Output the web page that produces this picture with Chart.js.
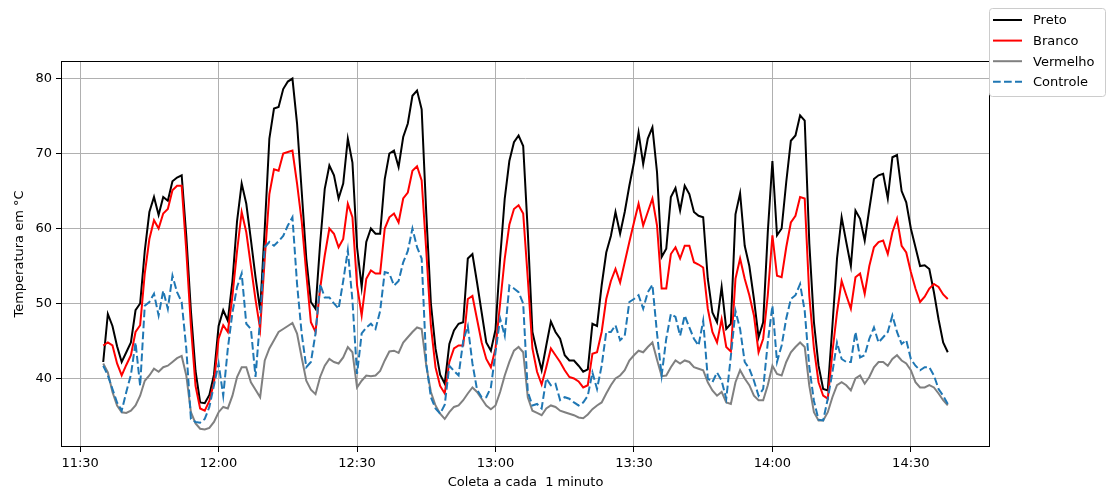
<!DOCTYPE html>
<html lang="pt-BR">
<head>
<meta charset="utf-8">
<title>Temperatura em °C</title>
<script src="https://cdn.jsdelivr.net/npm/chart.js@4.4.1/dist/chart.umd.min.js"></script>
<style>
  html, body { margin: 0; padding: 0; background: #fff; }
  canvas { display: block; }
</style>
</head>
<body>
<canvas id="grafico" width="1108" height="496"></canvas>
<script>
// leituras a cada 1 minuto, contando os minutos a partir das 11:30
const inicio = 11 * 60 + 30;
const primeiroMinuto = 5;

const preto = [
  42.2, 48.6, 47, 44.3, 42.2, 43.5, 44.8, 49.1, 50, 57,
  62.2, 64.2, 61.8, 64.2, 63.7, 66.3, 66.8, 67.1, 59, 49,
  41, 36.8, 36.7, 37.8, 40.5, 47, 49.1, 47.7, 53, 61,
  66, 63.3, 58.5, 53.5, 49.1, 60, 72, 76, 76.2, 78.6,
  79.6, 80, 74, 65, 56, 50.2, 49.3, 58, 65.3, 68.4,
  67.1, 64, 66, 72, 68.8, 57.5, 52.2, 58.2, 60, 59.3,
  59.3, 66.6, 70, 70.4, 68.2, 72.2, 74, 77.7, 78.4, 75.9,
  62, 50, 44, 40.5, 39.3, 44.6, 46.4, 47.3, 47.5, 56,
  56.6, 52.8, 48.8, 44.8, 43.7, 46.5, 56, 64, 69, 71.5,
  72.4, 71, 59.5, 46.2, 43.5, 41.1, 44.4, 47.6, 46.2, 45.3,
  43.1, 42.4, 42.4, 41.7, 40.9, 41.2, 47.3, 47, 52.4, 56.8,
  59, 62.2, 59.3, 62.2, 65.7, 68.8, 72.8, 68.6, 72, 73.5,
  67.5, 56.2, 57.3, 64.2, 65.4, 62.4, 65.7, 64.6, 62.2, 61.7,
  61.5, 53.3, 48.8, 47.5, 52.2, 46.6, 47.3, 61.9, 64.7, 57.7,
  55, 50.6, 45.5, 47.5, 59.5, 69, 59.1, 60, 66.2, 71.7,
  72.4, 75.1, 74.4, 58, 47.5, 41.7, 38.6, 38.4, 47, 56,
  61.5, 58.2, 55, 62.4, 61.3, 58.4, 62.6, 66.6, 67.1, 67.3,
  64, 69.5, 69.8, 65, 63.5, 60, 57.5, 55, 55.1, 54.6,
  51.5, 47.9, 44.8, 43.5
];

const branco = [
  44.4, 44.8, 44.4, 42, 40.4, 41.8, 43.1, 46.2, 47.1, 54,
  58.6, 61.1, 60, 62, 62.6, 65.1, 65.7, 65.7, 57, 47,
  39, 36, 35.7, 37, 39.5, 45.3, 47.1, 46.2, 51, 57,
  62.2, 59.5, 55, 50.5, 46.6, 56, 64.6, 67.9, 67.7, 70,
  70.2, 70.4, 66, 61, 54, 47.5, 46.2, 52, 56.4, 60,
  59.3, 57.5, 58.6, 63.3, 61.5, 52.4, 48.4, 53.3, 54.4, 54,
  54, 60, 61.5, 62, 60.8, 64, 64.8, 67.7, 68.3, 66.4,
  57, 47, 41.5, 39, 38, 42.2, 44, 44.4, 44.4, 50.6,
  51, 47.9, 44.8, 42.6, 41.5, 44, 50, 56, 60.5, 62.6,
  63.1, 62, 53.3, 44, 40.9, 39.2, 41.5, 44, 43.1, 42.2,
  41.1, 40.2, 40, 39.6, 38.8, 39.1, 43.3, 43.5, 46.2, 50.6,
  53, 54.6, 52.8, 55.5, 58.2, 60.8, 63.3, 60.4, 62.2, 64,
  60.4, 52, 52, 56.6, 57.5, 56, 57.7, 57.7, 55.5, 55.2,
  54.8, 49.3, 46.2, 44.8, 47.9, 44.2, 43.6, 53.3, 56, 53.3,
  51.1, 48.4, 43.5, 45.3, 51.1, 59.1, 53.7, 53.5, 57.5, 60.8,
  61.7, 64.2, 64, 51, 44, 39.5, 37.7, 37.3, 43.5, 48.8,
  53, 51.1, 49.3, 53.5, 54, 51.3, 55, 57.5, 58.2, 58.4,
  56.6, 59.5, 61.3, 57.7, 56.8, 54.2, 52, 50.2, 50.9, 52,
  52.6, 52.2, 51.2, 50.6
];

const vermelho = [
  42, 40.8, 38.2, 36.4, 35.5, 35.4, 35.7, 36.4, 37.7, 39.7,
  40.4, 41.3, 40.9, 41.5, 41.7, 42.2, 42.7, 43, 40.4, 35.5,
  34, 33.3, 33.2, 33.4, 34.2, 35.5, 36.2, 36, 37.7, 40.2,
  41.5, 41.5, 39.5, 38.5, 37.5, 42.4, 44, 45.1, 46.2, 46.6,
  47, 47.4, 46, 42.8, 39.7, 38.5, 37.9, 40.2, 41.7, 42.6,
  42.2, 42, 42.8, 44.2, 43.5, 38.8, 39.7, 40.4, 40.3, 40.4,
  41, 42.4, 43.6, 43.7, 43.4, 44.8, 45.5, 46.2, 46.8, 46.6,
  41.7, 38.2, 36.4, 35.3, 34.6, 35.5, 36.2, 36.4, 37.1, 38,
  38.8, 38.2, 37.3, 36.4, 35.9, 36.4, 38.2, 40.4, 42.2, 43.7,
  44.2, 43.5, 37.5, 35.7, 35.4, 35.1, 36, 36.4, 36.2, 35.7,
  35.5, 35.3, 35.1, 34.8, 34.7, 35.2, 35.9, 36.4, 36.8, 38,
  39.1, 40, 40.4, 41.1, 42.4, 43.1, 43.7, 43.5, 44.2, 44.8,
  42.5, 40.3, 40.4, 41.5, 42.4, 42, 42.4, 42.2, 41.5, 41.3,
  41.1, 39.5, 38.4, 37.7, 38.2, 36.8, 36.6, 39.5, 41.1, 40,
  39.1, 37.7, 37.1, 37.1, 39.1, 41.7, 40.6, 40.4, 42.2, 43.5,
  44.2, 44.8, 44.2, 39, 35.5, 34.4, 34.4, 35.5, 37.5, 39.1,
  39.5, 39.1, 38.4, 40, 40.4, 39.3, 40.2, 41.5, 42.2, 42.2,
  41.7, 42.6, 43.1, 42.4, 42, 41.1, 39.5, 38.8, 38.8, 39.1,
  38.8, 38, 37.1, 36.4
];

const controle = [
  41.7, 40.4, 38.6, 36.8, 35.7, 38.2, 40.5, 44.8, 39, 49.7,
  50.2, 51.3, 48.4, 51.7, 49.3, 53.7, 51.5, 50.2, 44, 34.6,
  34.2, 34.1, 34.6, 36.2, 39.1, 42, 37.7, 44, 48.8, 52.2,
  54, 47.3, 46.6, 40.2, 48, 57.5, 58.2, 57.7, 58.3, 59,
  60.4, 61.5, 52.6, 46, 41.5, 42.2, 46, 52.6, 50.8, 50.8,
  50, 49.3, 53, 57.1, 50.4, 40.6, 46, 46.8, 47.3, 46.6,
  49, 54.2, 54, 52.4, 53, 55.5, 57, 60, 57.5, 56,
  42, 37.5, 36, 35.3, 36.5, 41.7, 41, 40.4, 45, 47,
  42, 38.5, 37.5, 37.5, 38.8, 43.5, 48, 45.7, 52.4, 52,
  51.5, 50, 38.2, 36.4, 36.6, 36, 40, 39.1, 39.3, 37.1,
  37.5, 37.3, 36.8, 36.4, 36.8, 37.7, 40.8, 38.6, 41.7, 46.2,
  46.2, 47.1, 45.1, 45.7, 50.2, 50.6, 51.1, 49.3, 51.5, 52.5,
  46, 40.4, 45.3, 48.6, 48.2, 45.7, 48.4, 46.8, 45.3, 44.4,
  47.7, 40, 39.5, 40.8, 39.7, 37.3, 43, 49, 46.6, 42.2,
  41.3, 39.7, 37.7, 38.6, 44.8, 49.7, 42.2, 44.4, 48, 50.6,
  51.1, 52.6, 49, 41.5, 37, 34.5, 34.4, 37.3, 40.8, 44.8,
  42.6, 42.2, 42.2, 46.2, 42.8, 43.1, 45.3, 46.8, 44.8, 45.5,
  46.2, 48.4, 46.2, 44.6, 45.1, 42.6, 41.7, 41.1, 41.5, 41.5,
  40.4, 38.6, 37.7, 36.6
];

const minutos = preto.map((v, i) => primeiroMinuto + i);
const ticksX = [0, 30, 60, 90, 120, 150, 180];
const ticksY = [40, 50, 60, 70, 80];

const fonte = { family: '"DejaVu Sans", sans-serif', size: 13 };

function pontos(valores) {
  return minutos.map((m, i) => ({ x: m, y: valores[i] }));
}

function hora(min) {
  const t = inicio + min;
  const h = Math.floor(t / 60);
  const m = t % 60;
  return h + ':' + String(m).padStart(2, '0');
}

// moldura do grafico e legenda no canto de cima
const moldura = {
  id: 'moldura',
  afterDatasetsDraw(chart) {
    const { ctx, chartArea: a } = chart;
    ctx.save();
    ctx.strokeStyle = '#000';
    ctx.lineWidth = 1;
    ctx.strokeRect(Math.round(a.left) + 0.5, Math.round(a.top) + 0.5,
      Math.round(a.right - a.left) - 1, Math.round(a.bottom - a.top) - 1);
    ctx.restore();
  },
  afterDraw(chart) {
    const ctx = chart.ctx;
    const x0 = 989.5, y0 = 8.5, w = 116, h = 88;
    ctx.save();
    ctx.beginPath();
    ctx.roundRect(x0, y0, w, h, 3);
    ctx.fillStyle = 'rgba(255,255,255,0.8)';
    ctx.fill();
    ctx.strokeStyle = '#cccccc';
    ctx.lineWidth = 1;
    ctx.stroke();
    ctx.font = '13px "DejaVu Sans", sans-serif';
    ctx.textBaseline = 'middle';
    ctx.textAlign = 'left';
    chart.data.datasets.forEach((ds, i) => {
      const y = 20 + i * 20.6;
      ctx.beginPath();
      ctx.setLineDash(ds.borderDash || []);
      ctx.strokeStyle = ds.borderColor;
      ctx.lineWidth = ds.borderWidth;
      ctx.moveTo(993, y);
      ctx.lineTo(1022, y);
      ctx.stroke();
      ctx.setLineDash([]);
      ctx.fillStyle = '#000';
      ctx.fillText(ds.label, 1033, y + 1);
    });
    ctx.restore();
  }
};

const ctx = document.getElementById('grafico');

new Chart(ctx, {
  type: 'line',
  data: {
    datasets: [
      { label: 'Preto', data: pontos(preto), borderColor: '#000000', order: 4 },
      { label: 'Branco', data: pontos(branco), borderColor: '#ff0000', order: 3 },
      { label: 'Vermelho', data: pontos(vermelho), borderColor: '#808080', order: 2 },
      { label: 'Controle', data: pontos(controle), borderColor: '#1f77b4', borderDash: [7.7, 3.3], order: 1 }
    ].map(ds => Object.assign({ borderWidth: 2, pointRadius: 0, tension: 0, fill: false }, ds))
  },
  options: {
    responsive: false,
    animation: false,
    layout: { padding: { left: 0, right: 118, top: 61, bottom: 0 } },
    plugins: {
      legend: { display: false },
      tooltip: { enabled: false }
    },
    scales: {
      x: {
        type: 'linear',
        min: -4.15,
        max: 197.15,
        afterFit: s => { s.height = 49; },
        afterBuildTicks: s => { s.ticks = ticksX.map(v => ({ value: v })); },
        ticks: {
          callback: v => hora(v),
          color: '#000',
          font: fonte,
          padding: 4,
          maxRotation: 0,
          autoSkip: false
        },
        grid: { color: '#b0b0b0', lineWidth: 1, tickColor: '#000', tickLength: 5 },
        border: { display: false },
        title: {
          display: true,
          text: 'Coleta a cada  1 minuto',
          color: '#000',
          font: fonte,
          padding: { top: 0, bottom: 6 }
        }
      },
      y: {
        min: 30.86,
        max: 82.34,
        afterFit: s => { s.width = 61; },
        afterBuildTicks: s => { s.ticks = ticksY.map(v => ({ value: v })); },
        ticks: {
          color: '#000',
          font: fonte,
          padding: 4
        },
        grid: { color: '#b0b0b0', lineWidth: 1, tickColor: '#000', tickLength: 5 },
        border: { display: false },
        title: {
          display: true,
          text: 'Temperatura em °C',
          color: '#000',
          font: fonte,
          padding: { top: 12, bottom: 0 }
        }
      }
    }
  },
  plugins: [moldura]
});
</script>
</body>
</html>
